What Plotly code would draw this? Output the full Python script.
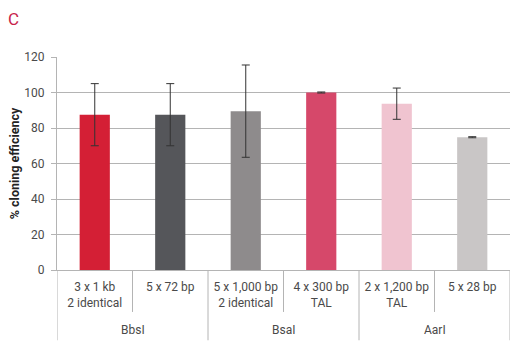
import plotly.graph_objects as go

categories = ["3 x 1 kb<br>2 identical", "5 x 72 bp", "5 x 1,000 bp<br>2 identical",
              "4 x 300 bp<br>TAL", "2 x 1,200 bp<br>TAL", "5 x 28 bp"]
groups = ["BbsI", "BsaI", "AarI"]
group_sizes = [2, 2, 2]
values = [87.5, 87.5, 89.5, 100, 93.7, 74.8]
errors = [17.5, 17.5, 26, 0.3, 8.8, 0.3]
colors = ["#d41f35", "#55565a", "#8e8b8c", "#d6486a", "#f0c4d0", "#c9c6c6"]
y_ticks = [0, 20, 40, 60, 80, 100, 120]

FONT = "Roboto"
GRID = "#b4b4b4"
TXT = "#4a4a4a"

fig = go.Figure()
fig.add_trace(go.Bar(
    x=list(range(len(categories))), y=values,
    marker=dict(color=colors, line=dict(width=0)),
    width=0.4,
    error_y=dict(type="data", array=errors, visible=True, color="#333333",
                 thickness=1, width=4),
))

shapes = []
annotations = []
idx = 0
shapes.append(dict(type="line", xref="x", yref="paper", x0=-0.5, x1=-0.5, y0=0, y1=-0.33,
                   line=dict(color=GRID, width=1)))
for g, n in zip(groups, group_sizes):
    for k in range(n):
        i = idx + k
        is_group_end = (k == n - 1)
        shapes.append(dict(type="line", xref="x", yref="paper", x0=i + 0.5, x1=i + 0.5,
                           y0=0, y1=-0.33 if is_group_end else -0.197,
                           line=dict(color=GRID, width=1)))
    annotations.append(dict(text=g, xref="x", yref="paper", x=idx + (n - 1) / 2, y=-0.28,
                            showarrow=False, yanchor="middle",
                            font=dict(family=FONT, size=12, color=TXT)))
    idx += n

annotations.append(dict(text="C", xref="paper", yref="paper", x=-0.112, y=1.18,
                        xanchor="left", yanchor="middle", showarrow=False,
                        font=dict(family=FONT, size=17, color="#c8234a")))

fig.update_layout(
    width=525, height=353,
    margin=dict(l=57, r=15, t=57, b=83, autoexpand=False),
    paper_bgcolor="white", plot_bgcolor="white",
    showlegend=False,
    shapes=shapes, annotations=annotations,
    font=dict(family=FONT, size=12, color=TXT),
    bargap=0.6,
)
fig.update_xaxes(
    tickmode="array", tickvals=list(range(len(categories))), ticktext=categories,
    range=[-0.5, len(categories) - 0.5],
    showline=True, linecolor=GRID, linewidth=1,
    ticks="", showgrid=False, zeroline=False,
    ticklabelstandoff=6, automargin=False,
    tickfont=dict(family=FONT, size=12, color=TXT),
)
fig.update_yaxes(
    range=[0, 120], tickvals=y_ticks,
    showgrid=True, gridcolor=GRID, gridwidth=1,
    showline=True, linecolor=GRID, linewidth=1,
    ticks="outside", ticklen=5, tickcolor=GRID,
    ticklabelstandoff=4, automargin=False,
    zeroline=False,
    tickfont=dict(family=FONT, size=12, color=TXT),
    title=dict(text="<b>% cloning efficiency</b>", standoff=1,
               font=dict(family=FONT, size=12.5, color="#222222")),
)

fig.write_html("out.html")
